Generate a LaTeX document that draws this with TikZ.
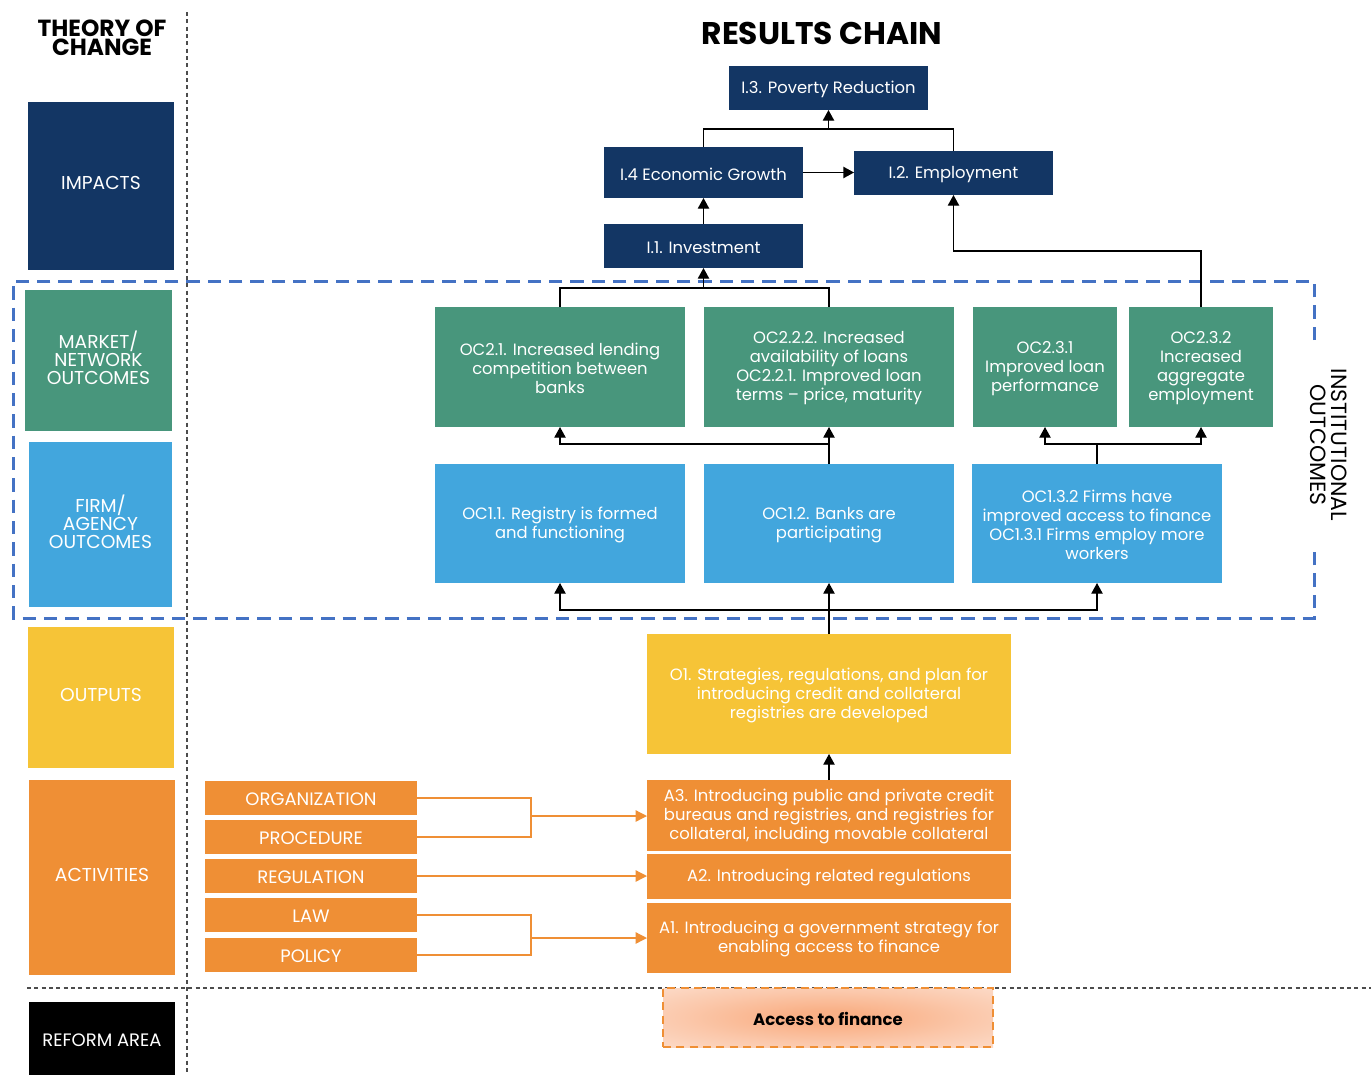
\documentclass[tikz,border=0pt]{standalone}
\usepackage{fontspec}
\setmainfont{Poppins}
\usetikzlibrary{arrows.meta,calc}

\definecolor{navy}{RGB}{19,54,100}
\definecolor{mgreen}{RGB}{72,150,124}
\definecolor{fblue}{RGB}{66,166,221}
\definecolor{oyellow}{RGB}{246,196,55}
\definecolor{aorange}{RGB}{239,143,53}
\definecolor{dblue}{RGB}{68,114,196}
\definecolor{shadein}{RGB}{249,176,134}
\definecolor{shadeout}{RGB}{253,229,216}

\pgfdeclareradialshading{atfshade}{\pgfpoint{0bp}{0bp}}{%
  color(0bp)=(shadein); color(6bp)=(shadein);
  color(22bp)=(shadein!55!shadeout);
  color(44bp)=(shadeout); color(70bp)=(shadeout)}

\tikzset{
  panel/.style={inner sep=0pt, outer sep=0pt},
  txt/.style={inner sep=0pt, outer sep=0pt, align=center, text=white,
    font=\fontsize{12.3}{14.3}\selectfont},
  levelcap/.style={txt, yshift=3pt, font=\fontsize{14}{13.5}\selectfont},
  tagtxt/.style={txt, font=\fontsize{13.5}{14}\selectfont},
  arr/.style={-{Triangle[width=8.5pt,length=8pt]}, line width=1pt, black},
  ln/.style={line width=1pt, black},
  oarr/.style={-{Triangle[width=8.5pt,length=8.5pt]}, line width=1pt, aorange},
  oln/.style={line width=1pt, aorange},
  sep/.style={line width=1pt, black!70, dash pattern=on 3pt off 2.5pt},
}

% panel from corner (x1,y1) to corner (x2,y2) in pixel-like units,
% with its text set slightly below the geometric centre
\newcommand\bx[8]{%
  \node[panel, #6, minimum width={(#4-#2)*0.75pt}, minimum height={(#5-#3)*0.75pt}]
    (#1) at ({(#2+#4)/2},{(#3+#5)/2}) {};
  \node[#7, yshift=-1pt] (#1t) at (#1.center) {#8};}

\begin{document}
\begin{tikzpicture}[x=0.75pt,y=-0.75pt]
\useasboundingbox (0,0) rectangle (1371,1075);

% separators
\draw[sep] (187,12) -- (187,1075);
\draw[sep] (27,988) -- (1371,988);

% headings
\node[font=\fontsize{17.5}{14.5}\selectfont\bfseries, align=center] (toc) at (102,38) {THEORY OF\\CHANGE};
\node[font=\fontsize{23.5}{26}\selectfont\bfseries] (rc) at (822,33) {RESULTS CHAIN};

% institutional outcomes frame
\draw[dblue, line width=2.25pt, dash pattern=on 10pt off 6pt]
  (1314,340) -- (1314,281) -- (13,281) -- (13,618) -- (1314,618) -- (1314,548);
\node[rotate=-90, align=center, font=\fontsize{16.5}{16}\selectfont] (inst) at (1329,445) {INSTITUTIONAL\\OUTCOMES};

% left column levels
\bx{imp}{28}{102}{174}{270}{fill=navy}{levelcap}{IMPACTS}
\bx{mkt}{25}{290}{172}{431}{fill=mgreen}{levelcap}{MARKET/\\NETWORK\\OUTCOMES}
\bx{frm}{29}{442}{172}{607}{fill=fblue}{levelcap}{FIRM/\\AGENCY\\OUTCOMES}
\bx{out}{28}{627}{174}{768}{fill=oyellow}{levelcap}{OUTPUTS}
\bx{act}{29}{780}{175}{975}{fill=aorange}{levelcap}{ACTIVITIES}
\bx{ref}{29}{1002}{175}{1075}{fill=black}{tagtxt}{REFORM AREA}

% impacts
\bx{i3}{729}{66}{928}{110}{fill=navy}{txt}{I.3. Poverty Reduction}
\bx{i4}{604}{147}{803}{198}{fill=navy}{txt}{I.4 Economic Growth}
\bx{i2}{854}{151}{1053}{195}{fill=navy}{txt}{I.2. Employment}
\bx{i1}{604}{224}{803}{268}{fill=navy}{txt}{I.1. Investment}

% market / network outcomes
\bx{oc21}{435}{307}{685}{427}{fill=mgreen}{txt}{OC2.1. Increased lending\\competition between\\banks}
\bx{oc222}{704}{307}{954}{427}{fill=mgreen}{txt}{OC2.2.2. Increased\\availability of loans\\OC2.2.1. Improved loan\\terms – price, maturity}
\bx{oc231}{973}{307}{1117}{427}{fill=mgreen}{txt}{OC2.3.1\\Improved loan\\performance}
\bx{oc232}{1129}{307}{1273}{427}{fill=mgreen}{txt}{OC2.3.2\\Increased\\aggregate\\employment}

% firm / agency outcomes
\bx{oc11}{435}{464}{685}{583}{fill=fblue}{txt}{OC1.1. Registry is formed\\and functioning}
\bx{oc12}{704}{464}{954}{583}{fill=fblue}{txt}{OC1.2. Banks are\\participating}
\bx{oc13}{972}{464}{1222}{583}{fill=fblue}{txt}{OC1.3.2 Firms have\\improved access to finance\\OC1.3.1 Firms employ more\\workers}

% outputs
\bx{o1}{647}{634}{1011}{754}{fill=oyellow}{txt}{O1. Strategies, regulations, and plan for\\introducing credit and collateral\\registries are developed}

% activities
\bx{a3}{647}{780}{1011}{851}{fill=aorange}{txt}{A3. Introducing public and private credit\\bureaus and registries, and registries for\\collateral, including movable collateral}
\bx{a2}{647}{854}{1011}{899}{fill=aorange}{txt}{A2. Introducing related regulations}
\bx{a1}{647}{903}{1011}{973}{fill=aorange}{txt}{A1. Introducing a government strategy for\\enabling access to finance}

% reform instruments
\bx{org}{205}{781}{417}{815}{fill=aorange}{tagtxt}{ORGANIZATION}
\bx{proc}{205}{820}{417}{854}{fill=aorange}{tagtxt}{PROCEDURE}
\bx{reg}{205}{859}{417}{893}{fill=aorange}{tagtxt}{REGULATION}
\bx{law}{205}{898}{417}{932}{fill=aorange}{tagtxt}{LAW}
\bx{pol}{205}{938}{417}{972}{fill=aorange}{tagtxt}{POLICY}

% reform area
\bx{atf}{663}{988}{993}{1047}{shading=atfshade, draw=aorange, line width=1.5pt,
  dash pattern=on 6pt off 4pt}{txt, text=black,
  font=\fontsize{12.4}{14}\selectfont\bfseries}{Access to finance}

% junction points
\coordinate (j3) at (828.5,129);
\coordinate (j2) at (953.5,251);
\coordinate (j1) at (703.5,288);
\coordinate (j4) at (829,444);
\coordinate (j5) at (1097,444);
\coordinate (j6) at (829,610);
\coordinate (k1) at (531,816);
\coordinate (k2) at (531,938);

% impact links
\draw[ln] (i4.north) |- (j3) -| (i2.north);
\draw[arr] (j3) -- (i3.south);
\draw[arr] (i4.east) -- (i4.east -| i2.west);
\draw[arr] (i1.north) -- (i4.south);
\draw[arr] (oc232.north) |- (j2) -- (i2.south);
\draw[ln] (oc21.north) |- (j1) -| (oc222.north);
\draw[arr] (j1) -- (i1.south);

% outcome links
\draw[ln] (oc12.north) -- (j4);
\draw[arr] (j4) -| (oc21.south);
\draw[arr] (j4) -- (oc222.south);
\draw[ln] (oc13.north) -- (j5);
\draw[arr] (j5) -| (oc231.south);
\draw[arr] (j5) -| (oc232.south);

% output links
\draw[ln] (o1.north) -- (j6);
\draw[arr] (j6) -| (oc11.south);
\draw[arr] (j6) -- (oc12.south);
\draw[arr] (j6) -| (oc13.south);
\draw[arr] (a3.north) -- (o1.south);

% activity links
\draw[oln] (org.east) -| (k1) |- (proc.east);
\draw[oarr] (k1) -- (k1 -| a3.west);
\draw[oarr] (reg.east) -- (reg.east -| a2.west);
\draw[oln] (law.east) -| (k2) |- (pol.east);
\draw[oarr] (k2) -- (k2 -| a1.west);
\end{tikzpicture}
\end{document}
